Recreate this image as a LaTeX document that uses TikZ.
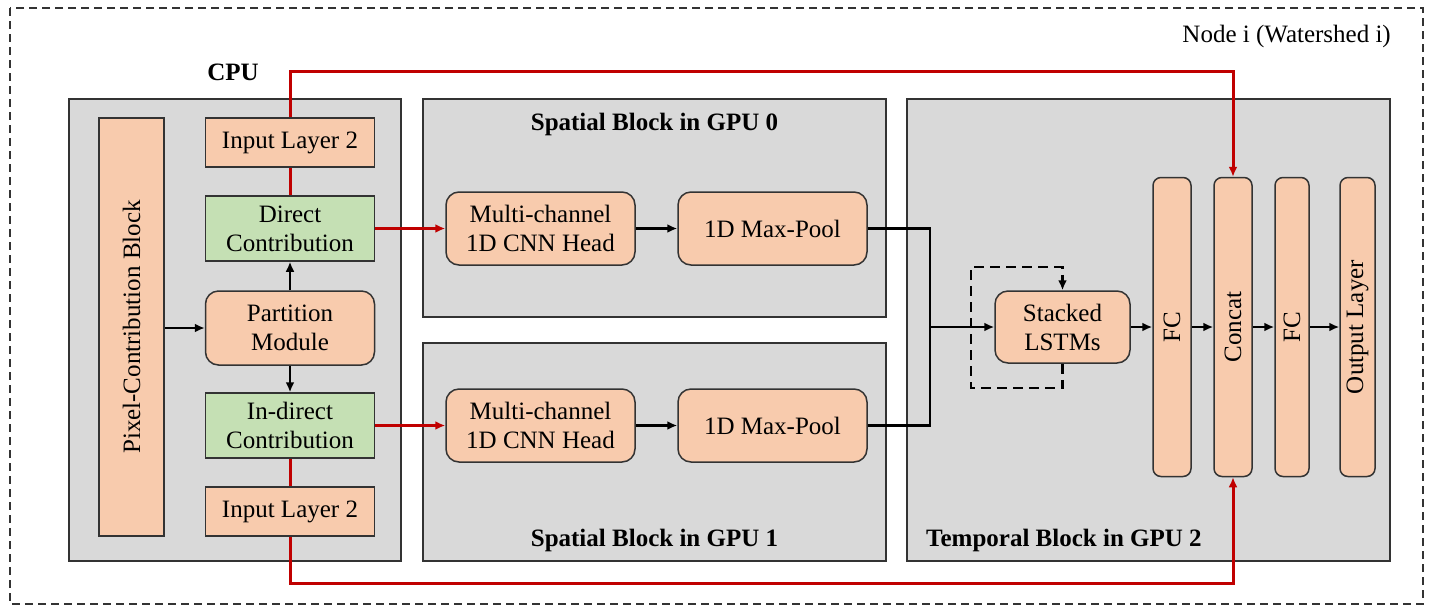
\documentclass[tikz,border=0pt]{standalone}
\usepackage{fontspec}
\setmainfont{Liberation Serif}
\usetikzlibrary{arrows.meta}

\definecolor{peach}{HTML}{F8CBAD}
\definecolor{leaf}{HTML}{C5E0B4}
\definecolor{panel}{HTML}{D9D9D9}
\definecolor{edge}{HTML}{333333}
\definecolor{wire}{HTML}{C00000}

\tikzset{
  every node/.style={font=\fontsize{25}{29}\selectfont, text=black, align=center, inner sep=0pt},
  panelbox/.style={draw=edge, fill=panel, line width=1.5pt},
  layerbox/.style={draw=edge, fill=peach, line width=1.5pt},
  greenbox/.style={draw=edge, fill=leaf, line width=1.5pt},
  roundbox/.style={layerbox, rounded corners=13pt},
  barbox/.style={layerbox, rounded corners=8pt, rotate=90},
  blackwire/.style={draw=black, line width=2.8pt},
  blackarrow/.style={blackwire, -{Latex[length=10pt,width=9pt]}},
  redwire/.style={draw=wire, line width=3pt},
  redarrow/.style={redwire, -{Latex[length=10pt,width=9pt]}},
  looparrow/.style={blackarrow, dash pattern=on 10pt off 6pt},
  titletext/.style={font=\fontsize{25}{29}\selectfont\bfseries},
}

\begin{document}
\begin{tikzpicture}[x=1pt, y=-1pt]
\useasboundingbox (0,0) rectangle (1437,606);

% outer node frame
\draw[edge, line width=1.5pt, dash pattern=on 8pt off 5pt] (10,8) rectangle (1423,604);
\node[anchor=east] (nodetitle) at (1391,36) {Node i (Watershed i)};

% device panels
\node[panelbox, minimum width=332pt, minimum height=462pt] (cpu) at (235,330) {};
\node[titletext] (cputitle) at (233,72) {CPU};
\node[panelbox, minimum width=463pt, minimum height=218pt] (gpu0) at (654.5,208) {};
\node[titletext] (gpu0title) at (654.5,124) {Spatial Block in GPU 0};
\node[panelbox, minimum width=463pt, minimum height=218pt] (gpu1) at (654.5,452) {};
\node[titletext] (gpu1title) at (654.5,540) {Spatial Block in GPU 1};
\node[panelbox, minimum width=483pt, minimum height=462pt] (gpu2) at (1148.5,330) {};
\node[titletext, anchor=west] (gpu2title) at (926,540) {Temporal Block in GPU 2};

% CPU contents
\node[layerbox, rotate=90, minimum width=418pt, minimum height=65pt] (pix) at (131.5,327) {Pixel-Contribution Block};
\node[layerbox, minimum width=169pt, minimum height=49pt] (inA) at (290,142.5) {Input Layer 2};
\node[greenbox, minimum width=169pt, minimum height=65pt] (direct) at (290,228.5) {Direct\\Contribution};
\node[roundbox, minimum width=169pt, minimum height=74pt] (part) at (290,328) {Partition\\Module};
\node[greenbox, minimum width=169pt, minimum height=65pt] (indirect) at (290,425.5) {In-direct\\Contribution};
\node[layerbox, minimum width=169pt, minimum height=49pt] (inB) at (290,511.5) {Input Layer 2};

% spatial blocks
\node[roundbox, minimum width=189pt, minimum height=73pt] (cnnA) at (540.5,228.5) {Multi-channel\\1D CNN Head};
\node[roundbox, minimum width=189pt, minimum height=73pt] (poolA) at (772.5,228.5) {1D Max-Pool};
\node[roundbox, minimum width=189pt, minimum height=73pt] (cnnB) at (540.5,425.5) {Multi-channel\\1D CNN Head};
\node[roundbox, minimum width=189pt, minimum height=73pt] (poolB) at (772.5,425.5) {1D Max-Pool};

% temporal block
\node[roundbox, minimum width=135pt, minimum height=72pt] (lstm) at (1062.5,327) {Stacked\\LSTMs};
\node[barbox, minimum width=299pt, minimum height=38pt] (fcA) at (1172,327) {FC};
\node[barbox, minimum width=299pt, minimum height=38pt] (concat) at (1233,327) {Concat};
\node[barbox, minimum width=299pt, minimum height=34pt] (fcB) at (1292,327) {FC};
\node[barbox, minimum width=299pt, minimum height=35pt] (out) at (1357.5,327) {Output Layer};

% junction of the two spatial streams and the recurrent loop corners
\coordinate (join) at (930,327);
\coordinate (loopbot) at (971,388);
\coordinate (looptop) at (971,267);

% black data flow
\draw[blackarrow] (pix.south |- part.west) -- (part.west);
\draw[blackarrow] (part.north) -- (direct.south);
\draw[blackarrow] (part.south) -- (indirect.north);
\draw[blackarrow] (cnnA.east) -- (poolA.west);
\draw[blackarrow] (cnnB.east) -- (poolB.west);
\draw[blackwire] (poolA.east) -| (join);
\draw[blackwire] (poolB.east) -| (join);
\draw[blackarrow] (join) -- (lstm.west);
\draw[looparrow] (lstm.south) |- (loopbot) -- (looptop) -| (lstm.north);
\draw[blackarrow] (lstm.east) -- (fcA.north);
\draw[blackarrow] (fcA.south) -- (concat.north);
\draw[blackarrow] (concat.south) -- (fcB.north);
\draw[blackarrow] (fcB.south) -- (out.north);

% red input paths
\draw[redwire] (inA.south) -- (direct.north);
\draw[redwire] (indirect.south) -- (inB.north);
\draw[redarrow] (direct.east) -- (cnnA.west);
\draw[redarrow] (indirect.east) -- (cnnB.west);
\draw[redarrow] (inA.north) -- (inA.north |- 0,71) -| (concat.east);
\draw[redarrow] (inB.south) -- (inB.south |- 0,583) -| (concat.west);
\end{tikzpicture}
\end{document}
